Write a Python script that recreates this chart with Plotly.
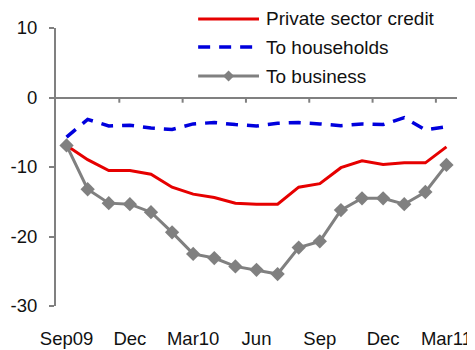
import plotly.graph_objects as go

months = ["Sep09", "Oct09", "Nov09", "Dec09", "Jan10", "Feb10", "Mar10", "Apr10", "May10",
          "Jun10", "Jul10", "Aug10", "Sep10", "Oct10", "Nov10", "Dec10", "Jan11", "Feb11", "Mar11"]
private_credit = [-6.9, -8.95, -10.5, -10.5, -11.05, -12.9, -13.9, -14.4, -15.2, -15.35,
                  -15.35, -12.9, -12.4, -10.1, -9.1, -9.65, -9.4, -9.4, -7.1]
households = [-5.7, -3.15, -4.1, -4.0, -4.4, -4.6, -3.8, -3.6, -3.9, -4.1,
              -3.7, -3.6, -3.8, -4.05, -3.8, -3.9, -2.9, -4.65, -4.2]
business = [-6.9, -13.2, -15.2, -15.35, -16.5, -19.4, -22.5, -23.1, -24.3, -24.8,
            -25.4, -21.6, -20.7, -16.2, -14.5, -14.5, -15.35, -13.6, -9.7]
tick_months = ["Sep09", "Dec09", "Mar10", "Jun10", "Sep10", "Dec10", "Mar11"]
tick_labels = ["Sep09", "Dec", "Mar10", "Jun", "Sep", "Dec", "Mar11"]
y_ticks = [10, 0, -10, -20, -30]
y_tick_labels = ["10", "0", "-10", "-20", "-30"]
legend_names = ["Private sector credit", "To households", "To business"]

RED = "#E60000"
BLUE = "#0000DD"
GRAY = "#808080"
FONT = "Liberation Sans, Arial, sans-serif"

# page body has an 8px margin; size the figure so it fits the 475x350 window
OFF = 8
W, H = 475 - OFF, 350 - OFF
# plot area in window pixels: x 55.5..457.5, y 28..306
ML = 55.5 - OFF
MT = 28 - OFF
MR = W - (457.5 - OFF)
MB = H - (306 - OFF)
PW, PH = W - ML - MR, H - MT - MB


def px(x):  # window pixel -> paper
    return (x - OFF - ML) / PW


def py(y):
    return (H - MB - (y - OFF)) / PH


fig = go.Figure()
fig.add_trace(go.Scatter(x=months, y=households, mode="lines", name=legend_names[1],
                         line=dict(color=BLUE, width=3.5, dash="12px,9px")))
fig.add_trace(go.Scatter(x=months, y=private_credit, mode="lines", name=legend_names[0],
                         line=dict(color=RED, width=3)))
fig.add_trace(go.Scatter(x=months, y=business, mode="lines+markers", name=legend_names[2],
                         line=dict(color=GRAY, width=3),
                         marker=dict(symbol="diamond", size=11, color=GRAY)))

shapes = []
# tick marks on the zero line (category boundaries every 3 months)
for b in [2.5, 5.5, 8.5, 11.5, 14.5, 17.5]:
    shapes.append(dict(type="line", xref="x", yref="y", x0=b, x1=b, y0=0, y1=-0.75,
                       line=dict(color=GRAY, width=2)))

# manual legend
rows = [(19, RED, "solid", legend_names[0]), (47, BLUE, "dash", legend_names[1]),
        (76, GRAY, "solid", legend_names[2])]
annotations = []
for yy, col, dash, name in rows:
    shapes.append(dict(type="line", xref="paper", yref="paper", x0=px(198), x1=px(259),
                       y0=py(yy), y1=py(yy),
                       line=dict(color=col, width=3.5 if dash == "dash" else 3,
                                 dash="12px,9px" if dash == "dash" else "solid")))
    annotations.append(dict(xref="paper", yref="paper", x=px(264), y=py(yy), text=name,
                            showarrow=False, xanchor="left", yanchor="middle",
                            font=dict(family=FONT, size=19, color="#111111")))
cx, cy, r = 228.5, 76, 5.5
shapes.append(dict(type="path", xref="paper", yref="paper",
                   path=f"M {px(cx)} {py(cy - r)} L {px(cx + r)} {py(cy)} L {px(cx)} {py(cy + r)} L {px(cx - r)} {py(cy)} Z",
                   fillcolor=GRAY, line=dict(color=GRAY, width=0)))

fig.update_layout(
    width=W, height=H,
    margin=dict(l=ML, r=MR, t=MT, b=MB, pad=0, autoexpand=False),
    paper_bgcolor="white", plot_bgcolor="white",
    showlegend=False,
    font=dict(family=FONT, size=18.5, color="#111111"),
    shapes=shapes, annotations=annotations,
    xaxis=dict(type="category", categoryorder="array", categoryarray=months,
               range=[-0.5, 18.5], tickvals=tick_months, ticktext=tick_labels,
               showline=False, showgrid=False, zeroline=False, automargin=False,
               ticks="outside", ticklen=0, ticklabelstandoff=16,
               tickfont=dict(family=FONT, size=18.5, color="#111111")),
    yaxis=dict(range=[-30, 10], tickvals=y_ticks, ticktext=y_tick_labels, showgrid=False,
               showline=True, linecolor=GRAY, linewidth=2, automargin=False,
               zeroline=True, zerolinecolor=GRAY, zerolinewidth=2,
               ticks="outside", ticklen=5, tickwidth=2, tickcolor=GRAY,
               ticklabelstandoff=8,
               tickfont=dict(family=FONT, size=18.5, color="#111111")),
)

fig.write_html("out.html")
